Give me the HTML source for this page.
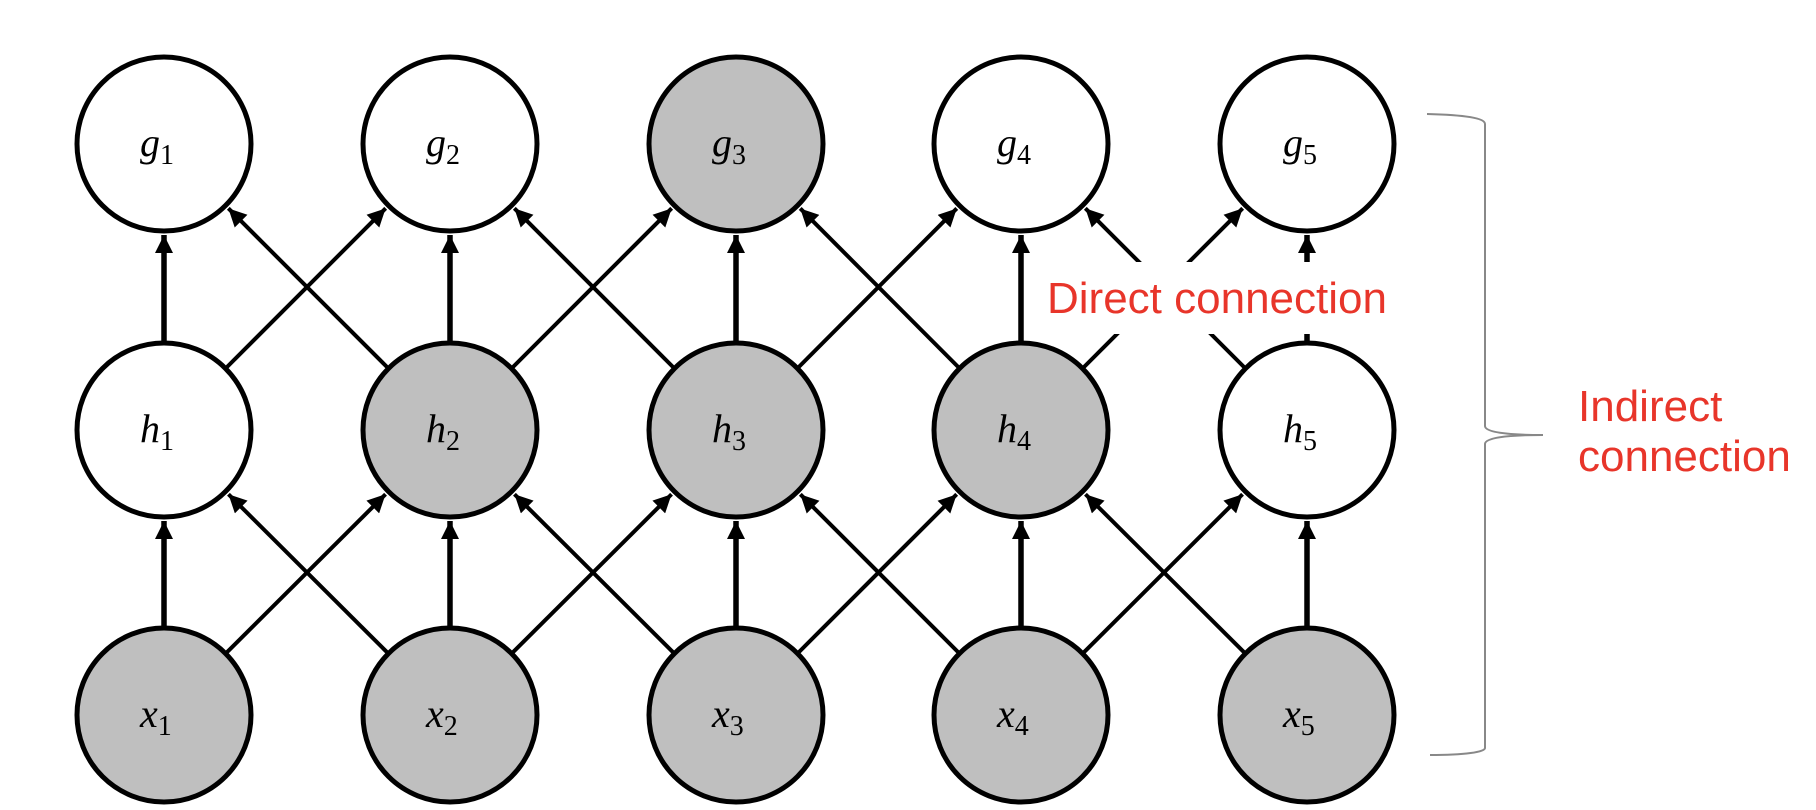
<!DOCTYPE html>
<html><head><meta charset="utf-8"><style>
html,body{margin:0;padding:0;background:#fff;}
svg{display:block;}
.lab{font-family:"Liberation Serif",serif;font-style:italic;font-size:40px;fill:#000;}
.sub{font-family:"Liberation Serif",serif;font-style:normal;font-size:28px;}
.red{font-family:"Liberation Sans",sans-serif;font-size:44px;fill:#e8352a;}
</style></head><body>
<svg id="s" width="1816" height="810" viewBox="0 0 1816 810" xmlns="http://www.w3.org/2000/svg">
<defs>
<marker id="ah" viewBox="0 0 10 10" refX="10" refY="5" markerUnits="userSpaceOnUse" markerWidth="24" markerHeight="18" orient="auto">
<path d="M0,0 L10,5 L0,10 z" fill="#000"/>
</marker>
</defs>
<g id="edges"></g>
<rect x="1045" y="262" width="350" height="72" fill="#fff"/>
<text class="red" x="1047" y="313">Direct connection</text>
<text class="red" x="1578" y="421">Indirect</text>
<text class="red" x="1578" y="471">connection</text>
<path d="M1427,114 C1465,115 1485,118 1485,124 L1485,426 C1485,432 1505,435 1543,435 C1505,435 1485,438 1485,444 L1485,748 C1485,752 1465,755 1430,755" fill="none" stroke="#888" stroke-width="2"/>
<g id="nodes"></g>
</svg>
<script>
var xs=[164,450,736,1021,1307], ys={g:144,h:430,x:715}, r=87;
var fills={g:[0,0,1,0,0],h:[0,1,1,1,0],x:[1,1,1,1,1]};
var E='',N='';
function arrow(x1,y1,x2,y2,w){
  var dx=x2-x1,dy=y2-y1,L=Math.hypot(dx,dy),ux=dx/L,uy=dy/L;
  var sx=x1+ux*r,sy=y1+uy*r,ex=x2-ux*(r+4),ey=y2-uy*(r+4);
  E+='<line x1="'+sx+'" y1="'+sy+'" x2="'+ex+'" y2="'+ey+'" stroke="#000" stroke-width="'+w+'" marker-end="url(#ah)"/>';
}
[['x','h'],['h','g']].forEach(function(p){
  for(var i=0;i<5;i++){
    arrow(xs[i],ys[p[0]],xs[i],ys[p[1]],5.5);
    if(i>0)arrow(xs[i],ys[p[0]],xs[i-1],ys[p[1]],4);
    if(i<4)arrow(xs[i],ys[p[0]],xs[i+1],ys[p[1]],4);
  }
});
['g','h','x'].forEach(function(k){
  for(var i=0;i<5;i++){
    N+='<circle cx="'+xs[i]+'" cy="'+ys[k]+'" r="'+r+'" fill="'+(fills[k][i]?'#bfbfbf':'#fff')+'" stroke="#000" stroke-width="5"/>';
    N+='<text class="lab" x="'+(xs[i]-24)+'" y="'+(ys[k]+12)+'">'+k+'<tspan class="sub" dy="8">'+(i+1)+'</tspan></text>';
  }
});
document.getElementById('edges').innerHTML=E;
document.getElementById('nodes').innerHTML=N;
</script>
</body></html>
